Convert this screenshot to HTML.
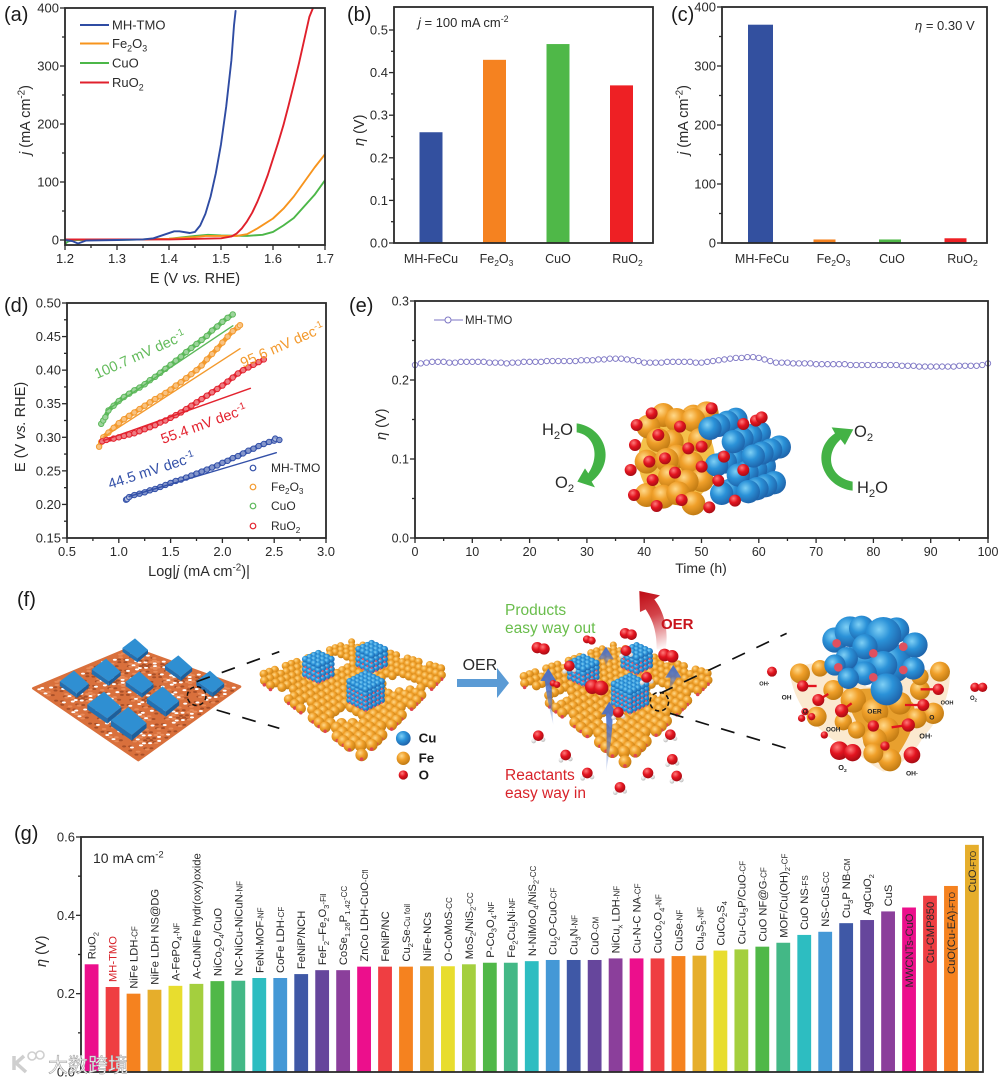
<!DOCTYPE html>
<html lang="en">
<head>
<meta charset="utf-8">
<title>OER electrocatalyst figure</title>
<style>
html,body{margin:0;padding:0;background:#fff;width:1000px;height:1083px;overflow:hidden}
svg{display:block;font-family:"Liberation Sans","Noto Sans CJK SC",sans-serif;filter:blur(.35px)}
text{white-space:pre}
</style>
</head>
<body>
<svg id="fig" width="1000" height="1083" viewBox="0 0 1000 1083" xmlns="http://www.w3.org/2000/svg">
<defs>
<radialGradient id="g-o" cx="38%" cy="32%" r="70%"><stop offset="0" stop-color="#ffd98a"/><stop offset=".45" stop-color="#f0a02a"/><stop offset="1" stop-color="#c07a12"/></radialGradient>
<radialGradient id="g-b" cx="38%" cy="35%" r="70%"><stop offset="0" stop-color="#7fd0f5"/><stop offset=".45" stop-color="#2b92d8"/><stop offset="1" stop-color="#1d5fa6"/></radialGradient>
<radialGradient id="g-r" cx="38%" cy="32%" r="70%"><stop offset="0" stop-color="#ff7b7b"/><stop offset=".5" stop-color="#e3141f"/><stop offset="1" stop-color="#a50c14"/></radialGradient>
<radialGradient id="g-w" cx="38%" cy="32%" r="70%"><stop offset="0" stop-color="#ffffff"/><stop offset="1" stop-color="#bcbcbc"/></radialGradient>
<linearGradient id="oer-arrow-fill" gradientUnits="userSpaceOnUse" x1="490" y1="178" x2="430" y2="10"><stop offset="0" stop-color="#c8141c" stop-opacity="0"/><stop offset=".6" stop-color="#c8141c" stop-opacity=".8"/><stop offset="1" stop-color="#c0111a"/></linearGradient>
<linearGradient id="up-arrow-fill" x1="0" y1="1" x2="0" y2="0"><stop offset="0" stop-color="#4a70c8" stop-opacity=".1"/><stop offset=".6" stop-color="#4a70c8" stop-opacity=".85"/><stop offset="1" stop-color="#4a70c8"/></linearGradient>
</defs>
<rect x="0" y="0" width="1000" height="1083" fill="#fff"/>
<g id="panel-a"></g>
<g id="panel-b"></g>
<g id="panel-c"></g>
<g id="panel-d"></g>
<g id="panel-e"></g>
<g id="panel-e-art"></g>
<g id="panel-f"></g>
<g id="panel-g"></g>
<g id="mark"></g>
</svg>
<script>
// ---------- Panel (a) data ----------
const eMhA=[1.2,1.215,1.225,1.24,1.3,1.35,1.37,1.39,1.41,1.42,1.44,1.45,1.46,1.47,1.48,1.49,1.5,1.51,1.52,1.525,1.528];
const jMhA=[0,-2,-6,-1,0,1,3,9,15,15,12,14,25,45,75,115,165,230,310,370,395];
const eRuA=[1.2,1.4,1.5,1.52,1.53,1.54,1.55,1.56,1.57,1.58,1.59,1.6,1.61,1.62,1.63,1.64,1.65,1.66,1.67,1.677];
const jRuA=[1,1,3,6,11,20,32,47,66,88,112,140,168,198,232,268,305,345,385,400];
const eFeA=[1.2,1.35,1.4,1.45,1.47,1.5,1.53,1.55,1.57,1.6,1.62,1.64,1.66,1.68,1.7];
const jFeA=[1,1,2,5,7,7,7,10,20,37,54,75,100,125,148];
const eCuA=[1.2,1.205,1.215,1.3,1.4,1.45,1.475,1.5,1.55,1.58,1.6,1.62,1.64,1.66,1.68,1.7];
const jCuA=[-7,-3,0,0,2,7,9,8,7,9,14,25,38,58,78,103];
const xTicksA=['1.2','1.3','1.4','1.5','1.6','1.7'];
const xMinorA=[1.25,1.35,1.45,1.55,1.65];
const yTicksA=['0','100','200','300','400'];
const yMinorA=[50,150,250,350];
// ---------- Panel (b) data ----------
const catsB=['MH-FeCu','Fe_{2}O_{3}','CuO','RuO_{2}'];
const etaB=[0.26,0.43,0.467,0.37];
const yTicksB=['0.0','0.1','0.2','0.3','0.4','0.5'];
const yMinorB=[0.05,0.15,0.25,0.35,0.45];
// ---------- Panel (c) data ----------
const catsC=['MH-FeCu','Fe_{2}O_{3}','CuO','RuO_{2}'];
const jC=[370,6,6,8];
const yTicksC=['0','100','200','300','400'];
const yMinorC=[50,150,250,350];
// ---------- Panel (d) data ----------
const logMhD=[1.07,1.08,1.1,1.15,1.2,1.25,1.3,1.35,1.4,1.45,1.5,1.55,1.6,1.65,1.7,1.75,1.8,1.85,1.9,1.95,2.0,2.05,2.1,2.15,2.2,2.25,2.3,2.35,2.4,2.45,2.5,2.51,2.55];
const eMhD=[.207,.208,.211,.214,.216,.218,.221,.223,.226,.229,.232,.235,.237,.24,.243,.246,.249,.252,.255,.258,.262,.265,.269,.272,.276,.28,.283,.287,.29,.293,.295,.298,.296];
const logFeD=[.81,.83,.85,.9,.95,1,1.05,1.1,1.15,1.2,1.25,1.3,1.35,1.4,1.45,1.5,1.55,1.6,1.65,1.7,1.75,1.8,1.85,1.9,1.95,2,2.05,2.1,2.15,2.17];
const eFeD=[.286,.293,.3,.307,.314,.321,.327,.332,.337,.342,.347,.352,.357,.361,.366,.371,.377,.382,.388,.394,.4,.407,.416,.424,.432,.441,.45,.458,.464,.467];
const logCuD=[.83,.85,.87,.9,.95,1,1.05,1.1,1.15,1.2,1.25,1.3,1.35,1.4,1.45,1.5,1.55,1.6,1.65,1.7,1.75,1.8,1.85,1.9,1.95,2,2.05,2.1];
const eCuD=[.32,.325,.33,.34,.347,.354,.36,.365,.37,.374,.379,.385,.39,.396,.402,.408,.414,.42,.427,.433,.439,.445,.451,.459,.465,.472,.478,.483];
const logRuD=[.84,.88,.95,1,1.05,1.1,1.15,1.2,1.25,1.3,1.35,1.4,1.45,1.5,1.55,1.6,1.65,1.7,1.75,1.8,1.85,1.9,1.95,2,2.05,2.1,2.15,2.2,2.25,2.3,2.35,2.4];
const eRuD=[.294,.296,.298,.3,.302,.304,.306,.309,.312,.315,.318,.322,.325,.329,.333,.337,.342,.347,.352,.357,.362,.367,.372,.377,.383,.389,.395,.4,.404,.408,.412,.416];
const fitMhX=[1.1,2.52], fitMhY=[.212,.277];
const fitFeX=[.85,2.17], fitFeY=[.3,.432];
const fitCuX=[.88,2.1], fitCuY=[.34,.466];
const fitRuX=[.85,2.27], fitRuY=[.295,.373];
const xTicksD=['0.5','1.0','1.5','2.0','2.5','3.0'];
const xMinorD=[.75,1.25,1.75,2.25,2.75];
const yTicksD=['0.15','0.20','0.25','0.30','0.35','0.40','0.45','0.50'];
const yMinorD=[.175,.225,.275,.325,.375,.425,.475];
// ---------- Panel (e) data ----------
const etaE=[.219,.221,.222,.223,.223,.223,.222,.222,.223,.223,.223,.223,.223,.222,.222,.222,.221,.222,.222,.223,.223,.223,.223,.224,.224,.224,.224,.224,.224,.225,.225,.225,.226,.226,.227,.227,.227,.226,.225,.224,.222,.222,.222,.222,.223,.223,.223,.223,.223,.222,.222,.223,.224,.225,.226,.227,.228,.228,.229,.229,.228,.226,.224,.222,.222,.222,.221,.221,.221,.221,.220,.220,.220,.220,.220,.220,.219,.219,.219,.219,.219,.219,.219,.219,.219,.218,.218,.218,.217,.217,.217,.217,.217,.217,.217,.218,.218,.218,.218,.219,.221];
const xTicksE=['0','10','20','30','40','50','60','70','80','90','100'];
const xMinorE=[5,15,25,35,45,55,65,75,85,95];
const yTicksE=['0.0','0.1','0.2','0.3'];
const yMinorE=[.05,.15,.25];
// ---------- Panel (g) data ----------
const catsG=['RuO_{2}','MH-TMO','NiFe LDH~{-CF}','NiFe LDH NS@DG','A-FePO_{4}~{-NF}','A-CuNiFe hydr(oxy)oxide','NiCo_{2}O_{4}/CuO','NC-NiCu-NiCuN~{-NF}','FeNi-MOF~{-NF}','CoFe LDH~{-CF}','FeNiP/NCH','FeF_{2}–Fe_{2}O_{3}~{-Fil}','CoSe_{1.26}P_{1.42}~{-CC}','ZnCo LDH-CuO~{-Cfl}','FeNiP/NC','Cu_{2}Se~{-Cu foil}','NiFe-NCs','O-CoMoS~{-CC}','MoS_{2}/NiS_{2}~{-CC}','P-Co_{3}O_{4}~{-NF}','Fe_{2}Cu_{5}Ni~{-NF}','N-NiMoO_{4}/NiS_{2}~{-CC}','Cu_{2}O-CuO~{-CF}','Cu_{3}N~{-NF}','CuO~{-CM}','NiCu_{x} LDH~{-NF}','Cu-N-C NA~{-CF}','CuCo_{2}O_{4}~{-NF}','CuSe~{-NF}','Cu_{9}S_{5}~{-NF}','CuCo_{2}S_{4}','Cu-Cu_{3}P/CuO~{-CF}','CuO NF@G~{-CF}','MOF/Cu(OH)_{2}~{-CF}','CuO NS~{-FS}','NS-CuS~{-CC}','Cu_{3}P NB~{-CM}','AgCuO_{2}','CuS','MWCNTs-CuO','Cu-CMP850','CuO(Cu-EA)~{-FTO}','CuO~{-FTO}'];
const etaG=[.275,.217,.2,.21,.22,.225,.232,.233,.24,.24,.25,.26,.26,.269,.269,.269,.27,.27,.275,.279,.279,.283,.286,.286,.286,.29,.29,.29,.296,.297,.31,.313,.32,.33,.35,.358,.38,.388,.41,.42,.45,.475,.58];
const yTicksG=['0.0','0.2','0.4','0.6'];
const yMinorG=[.1,.3,.5];

// ---------- helpers ----------
const NS='http://www.w3.org/2000/svg';
const INK='#2a2a2a';
const BLUE='#2f4ca3',ORANGE='#f7941d',GREEN='#4cb748',RED='#e0202c';
function mk(parent,tag,attrs){
  const e=document.createElementNS(NS,tag);
  for(const k in attrs)e.setAttribute(k,attrs[k]);
  parent.appendChild(e);
  return e;
}
function linear(d0,d1,r0,r1){return v=>r0+(v-d0)*(r1-r0)/(d1-d0);}
// rich text: _{sub} ^{sup} ~{small suffix} *{italic}
function rich(parent,str,x,y,size,fill,anchor,rot,weight){
  const attrs={x:x,y:y,'font-size':size,fill:fill||INK,'text-anchor':anchor||'start'};
  if(rot)attrs.transform='rotate('+rot+' '+x+' '+y+')';
  if(weight)attrs['font-weight']=weight;
  const t=mk(parent,'text',attrs);
  const re=/([_^~*])\{([^}]*)\}/g;
  let last=0,m,back=0;
  function add(txt,fs,dy,style){
    if(!txt)return;
    const a={};
    if(fs)a['font-size']=fs;
    const d=dy+back;
    if(d)a.dy=d;
    if(style)a['font-style']=style;
    const ts=mk(t,'tspan',a);
    ts.textContent=txt;
    back=-dy;
  }
  while((m=re.exec(str))){
    add(str.slice(last,m.index),null,0);
    if(m[1]==='_')add(m[2],size*.68,size*.25);
    else if(m[1]==='^')add(m[2],size*.68,-size*.38);
    else if(m[1]==='~')add(m[2],size*.72,0);
    else add(m[2],null,0,'italic');
    last=re.lastIndex;
  }
  add(str.slice(last),null,0);
  return t;
}
function axes(g,sx,sy,box,xT,xM,yT,yM,fs){
  const ticks=mk(g,'g',{stroke:INK,'stroke-width':1.3,fill:'none'});
  
  
  const labels=mk(g,'g',{});
  
  
  xT.forEach(s=>{const v=parseFloat(s),x=sx(v);
    mk(ticks,'line',{x1:x,x2:x,y1:box.b,y2:box.b+5});
    const t=rich(labels,s,x,box.b+18,fs,INK,'middle');
    
    
  });
  xM.forEach(v=>{const x=sx(v);mk(ticks,'line',{x1:x,x2:x,y1:box.b,y2:box.b+3});});
  yT.forEach(s=>{const v=parseFloat(s),y=sy(v);
    mk(ticks,'line',{x1:box.l-5,x2:box.l,y1:y,y2:y});
    const t=rich(labels,s,box.l-6,y+4.5,fs,INK,'end');
    
    
  });
  yM.forEach(v=>{const y=sy(v);mk(ticks,'line',{x1:box.l-3,x2:box.l,y1:y,y2:y});});
  const f=mk(g,'rect',{x:box.l,y:box.t,width:box.r-box.l,height:box.b-box.t,fill:'none',stroke:INK,'stroke-width':1.8});
  
  
}
function curve(g,xs,ys,sx,sy,color,width){
  const d=xs.map((v,i)=>(i?'L':'M')+sx(v).toFixed(1)+' '+sy(ys[i]).toFixed(1)).join('');
  return mk(g,'path',{d:d,fill:'none',stroke:color,'stroke-width':width,'stroke-linejoin':'round','stroke-linecap':'round'});
}
function panelTag(g,txt,x,y){
  const t=rich(g,txt,x,y,20,'#1a1a1a');
  
  
}
function atom(g,x,y,r,c){
  const a=mk(g,'circle',{cx:x,cy:y,r:r,fill:'url(#g-'+c+')'});
  
  
}

// ---------- Panel (a) ----------
(function(){
  const g=document.getElementById('panel-a');
  const box={l:65,r:325,t:8,b:245};
  const sx=linear(1.2,1.7,box.l,box.r), sy=linear(0,400,240,8);
  const clip=mk(g,'clipPath',{id:'clip-a'});
  mk(clip,'rect',{x:box.l,y:box.t,width:box.r-box.l,height:box.b-box.t});
  const lines=mk(g,'g',{'clip-path':'url(#clip-a)'});
  
  
  const c1=curve(lines,eCuA,jCuA,sx,sy,GREEN,1.9);
  
  
  const c2=curve(lines,eFeA,jFeA,sx,sy,ORANGE,1.9);
  
  
  const c3=curve(lines,eRuA,jRuA,sx,sy,RED,1.9);
  
  
  const c4=curve(lines,eMhA,jMhA,sx,sy,BLUE,1.9);
  
  
  axes(g,sx,sy,box,xTicksA,xMinorA,yTicksA,yMinorA,13);
  [['MH-TMO',BLUE,25],['Fe_{2}O_{3}',ORANGE,43.5],['CuO',GREEN,63],['RuO_{2}',RED,82.5]].forEach(r=>{
    const lg=mk(g,'g',{});
    
    
    mk(lg,'line',{x1:80,x2:109,y1:r[2],y2:r[2],stroke:r[1],'stroke-width':2});
    rich(lg,r[0],112,r[2]+4.5,13,INK);
  });
  const xt=rich(g,'E (V *{vs.} RHE)',195,283,14.5,INK,'middle');
  
  
  const yt=rich(g,'*{j} (mA cm^{-2})',30,155,14.5,INK,'start',-90);
  
  
  panelTag(g,'(a)',4,21);
})();

// ---------- Panel (b) ----------
(function(){
  const g=document.getElementById('panel-b');
  const box={l:394,r:653,t:7,b:243};
  const sy=linear(0,.5,243,30);
  const cx=i=>431+i*63.5;
  etaB.forEach((v,i)=>{
    const b=mk(g,'rect',{x:cx(i)-11.5,y:sy(v),width:23,height:243-sy(v),fill:['#33509f','#f58220','#4fb848','#ee2024'][i]});
    
    
    const t=rich(g,catsB[i],cx(i)+[0,2,0,6][i],263,12.5,INK,'middle');
    
    
  });
  axes(g,x=>x,sy,box,[],[],yTicksB,yMinorB,13);
  const n=rich(g,'*{j} = 100 mA cm^{-2}',418,27,13,INK);
  
  
  const yt=rich(g,'*{η} (V)',364,146,14.5,INK,'start',-90);
  
  
  panelTag(g,'(b)',347,21);
})();

// ---------- Panel (c) ----------
(function(){
  const g=document.getElementById('panel-c');
  const box={l:722,r:987,t:7,b:243};
  const sy=linear(0,400,243,7);
  const cx=i=>760+i*65.5;
  jC.forEach((v,i)=>{
    const b=mk(g,'rect',{x:cx(i)-12,y:sy(v),width:[25,22,22,22][i],height:243-sy(v),fill:['#33509f','#f58220','#4fb848','#ee2024'][i]});
    
    
    const t=rich(g,catsC[i],cx(i)+[2,8,1,6][i],263,12.5,INK,'middle');
    
    
  });
  axes(g,x=>x,sy,box,[],[],yTicksC,yMinorC,13);
  const n=rich(g,'*{η} = 0.30 V',915,30,13,INK);
  
  
  const yt=rich(g,'*{j} (mA cm^{-2})',688,155,14.5,INK,'start',-90);
  
  
  panelTag(g,'(c)',671,21);
})();

// ---------- Panel (d) ----------
(function(){
  const g=document.getElementById('panel-d');
  const box={l:67,r:326,t:303,b:538};
  const sx=linear(.5,3,box.l,box.r), sy=linear(.15,.5,538,303);
  function scatter(xs,ys,color,name){
    const s=mk(g,'g',{});
    
    
    curve(s,xs,ys,sx,sy,color,4.6);
    xs.forEach((v,i)=>{
      mk(s,'circle',{cx:sx(v),cy:sy(ys[i]),r:2.7,fill:'#fff','fill-opacity':.4,stroke:color,'stroke-width':1});
    });
  }
  scatter(logCuD,eCuD,'#5cb85a','series-cuo');
  scatter(logFeD,eFeD,'#f39a2e','series-fe2o3');
  scatter(logRuD,eRuD,'#e3232f','series-ruo2');
  scatter(logMhD,eMhD,'#3350a8','series-mh-tmo');
  [[fitCuX,fitCuY,'#5cb85a','fit-line-cuo'],[fitFeX,fitFeY,'#f39a2e','fit-line-fe2o3'],[fitRuX,fitRuY,'#e3232f','fit-line-ruo2'],[fitMhX,fitMhY,'#3350a8','fit-line-mh-tmo']].forEach(f=>{
    const l=curve(g,f[0],f[1],sx,sy,f[2],1.4);
    
    
  });
  axes(g,sx,sy,box,xTicksD,xMinorD,yTicksD,yMinorD,13);
  [['100.7 mV dec^{-1}','#63bb5b',97,379,-24],['95.6 mV dec^{-1}','#f39a2e',243,368,-24],['55.4 mV dec^{-1}','#e3232f',163,444,-20],['44.5 mV dec^{-1}','#3350a8',110,489,-18]].forEach(a=>{
    const t=rich(g,a[0],a[2],a[3],14.5,a[1],'start',a[4]);
    
    
  });
  [['MH-TMO','#3350a8',468],['Fe_{2}O_{3}','#f39a2e',487],['CuO','#5cb85a',506],['RuO_{2}','#e3232f',526]].forEach(r=>{
    const lg=mk(g,'g',{});
    
    
    mk(lg,'circle',{cx:253,cy:r[2],r:2.8,fill:'none',stroke:r[1],'stroke-width':1.2});
    rich(lg,r[0],271,r[2]+4,12,INK);
  });
  const xt=rich(g,'Log|*{j} (mA cm^{-2})|',199,576,14.5,INK,'middle');
  
  
  const yt=rich(g,'E (V *{vs.} RHE)',25,472,14.5,INK,'start',-90);
  
  
  panelTag(g,'(d)',4,312);
})();

// ---------- Panel (e) ----------
(function(){
  const g=document.getElementById('panel-e');
  const box={l:415,r:988,t:301,b:538};
  const sx=linear(0,100,box.l,box.r), sy=linear(0,.3,538,301);
  const col='#7d76c4';
  const s=mk(g,'g',{});
  
  
  etaE.forEach((v,i)=>{
    mk(s,'circle',{cx:sx(i*100/(etaE.length-1)),cy:sy(v),r:2.7,fill:'#fff',stroke:col,'stroke-width':.9});
  });
  axes(g,sx,sy,box,xTicksE,xMinorE,yTicksE,yMinorE,12.5);
  const lg=mk(g,'g',{});
  
  
  mk(lg,'line',{x1:434,x2:463,y1:320,y2:320,stroke:col,'stroke-width':1});
  mk(lg,'circle',{cx:448,cy:320,r:3,fill:'#fff',stroke:col,'stroke-width':1});
  rich(lg,'MH-TMO',465,324,11.5,INK);
  const xt=rich(g,'Time (h)',701,573,14,INK,'middle');
  
  
  const yt=rich(g,'*{η} (V)',386,440,14.5,INK,'start',-90);
  
  
  panelTag(g,'(e)',349,312);
})();

// ---------- Cube illustration inside (e) ----------
(function(){
  const root=document.getElementById('panel-e-art');
  const g=mk(root,'g',{transform:'translate(520 370) scale(.3333)'});
  
  
  const a1=mk(g,'path',{d:'M170,160 C250,170 295,270 215,335 L225,352 L172,335 L195,295 L205,310 C240,260 225,195 170,187 Z',fill:'#43b245'});
  
  
  const a2=mk(g,'path',{d:'M998,335 L998,362 C905,350 870,240 945,190 L935,172 L1000,178 L975,225 L962,208 C915,250 925,320 998,335 Z',fill:'#43b245'});
  
  
  const back=mk(g,'ellipse',{cx:470,cy:270,rx:115,ry:135,fill:'#f4c04a'});
  
  
  [[430,135],[520,140],[560,130],[470,150],[385,170],[520,150],[455,215],[415,210],[540,210],[380,275],[470,260],[515,280],[440,270],[450,320],[545,330],[500,335],[380,375],[430,380],[475,370],[520,400]].forEach(p=>atom(g,p[0],p[1],36,'o'));
  const front=[[570,175],[640,215],[700,258],[590,285],[655,315],[605,370],[685,365]];
  [3,2,1,0].forEach(k=>front.forEach(p=>atom(g,p[0]+k*26,p[1]-k*9,35,'b')));
  [[350,165],[345,225],[415,195],[480,170],[505,235],[545,230],[435,265],[388,275],[332,300],[465,308],[398,330],[342,375],[410,408],[485,390],[568,412],[645,392],[595,332],[545,290],[612,260],[670,300],[670,162],[708,152],[725,142],[575,115],[395,130]].forEach(p=>atom(g,p[0],p[1],18,'r'));
  [['H_{2}O',542,435],['O_{2}',555,488],['O_{2}',854,437],['H_{2}O',857,493]].forEach(r=>{
    const t=rich(root,r[0],r[1],r[2],16.5,INK);
    
    
  });
})();

// ---------- Panel (f) ----------
(function(){
  const root=document.getElementById('panel-f');
  panelTag(root,'(f)',17,606);
  const left=mk(root,'g',{transform:'translate(0 590) scale(.3333)'});
  
  
  const right=mk(root,'g',{transform:'translate(500 590) scale(.3333)'});
  
  

  function quad(Q,u,v){
    const w=[(1-u)*(1-v),u*(1-v),u*v,(1-u)*v];
    return [w[0]*Q[0][0]+w[1]*Q[1][0]+w[2]*Q[2][0]+w[3]*Q[3][0],w[0]*Q[0][1]+w[1]*Q[1][1]+w[2]*Q[2][1]+w[3]*Q[3][1]];
  }
  // film
  const Qf=[[100,295],[395,172],[720,290],[415,510]];
  const film=mk(left,'polygon',{points:Qf.map(p=>p.join(',')).join(' '),fill:'#d9703c',stroke:'#d9703c','stroke-width':8,'stroke-linejoin':'round'});
  
  
  const pores=mk(left,'g',{});
  
  
  for(let i=1;i<34;i++)for(let j=1;j<34;j++){
    const h=(i*7+j*13+i*j*3)%11, p=quad(Qf,i/34,j/34);
    if(h<2)mk(pores,'ellipse',{cx:p[0],cy:p[1],rx:6,ry:3,fill:'#fff'});
    else if(h<5)mk(pores,'ellipse',{cx:p[0]+4,cy:p[1]+3,rx:6,ry:3,fill:'#a84f28'});
    else if(h<7)mk(pores,'ellipse',{cx:p[0],cy:p[1],rx:7,ry:3,fill:'#e88a58'});
  }
  function tile(cx,cy,s){
    const t=mk(left,'g',{});
    
    
    mk(t,'polygon',{points:[[cx-50*s,cy-2*s],[cx+10*s,cy+40*s],[cx+10*s,cy+56*s],[cx-50*s,cy+14*s]].map(p=>p.join(',')).join(' '),fill:'#236fb0'});
    mk(t,'polygon',{points:[[cx+10*s,cy+40*s],[cx+52*s,cy+6*s],[cx+52*s,cy+20*s],[cx+10*s,cy+56*s]].map(p=>p.join(',')).join(' '),fill:'#1c5f9c'});
    mk(t,'polygon',{points:[[cx-50*s,cy-2*s],[cx,cy-40*s],[cx+52*s,cy+6*s],[cx+10*s,cy+40*s]].map(p=>p.join(',')).join(' '),fill:'#2f8fd2'});
  }
  [[405,175,.75],[318,240,.85],[222,276,.85],[535,228,.8],[418,277,.82],[630,275,.82],[488,327,.95],[312,345,1],[385,393,1.05]].forEach(p=>tile(p[0],p[1],p[2]));
  function dash(g,a,b){
    const l=mk(g,'line',{x1:a[0],y1:a[1],x2:b[0],y2:b[1],stroke:'#111','stroke-width':5,'stroke-dasharray':'42 38'});
    
    
  }
  dash(left,[590,275],[838,185]);
  dash(left,[650,360],[838,415]);
  const ring=mk(left,'circle',{cx:590,cy:318,r:28,fill:'none',stroke:'#111','stroke-width':4.5,'stroke-dasharray':'13 9'});
  
  

  function sheet(g,Q,n,r,holes,name){
    const s=mk(g,'g',{});
    
    
    const pts=[];
    for(let i=0;i<=n;i++)for(let j=0;j<=n;j++){
      const p=quad(Q,i/n,j/n);
      if(holes.some(h=>((p[0]-h[0])/h[2])**2+((p[1]-h[1])/h[3])**2<1))continue;
      const edge=i===0||j===0||i===n||j===n;
      if(edge&&(i*3+j*5)%4===0)continue;
      pts.push([p[0],p[1],edge]);
    }
    pts.sort((a,b)=>a[1]-b[1]);
    pts.forEach(p=>{
      atom(s,p[0],p[1],r*(.75+.6*(p[1]-160)/340),'o');
      if(p[2])mk(s,'circle',{cx:p[0],cy:p[1]+r*.9,r:r*.38,fill:'#e0464f'});
    });
  }
  function cube(g,cx,cy,n,dx,dy,dz,r){
    const c=mk(g,'g',{});
    
    
    for(let k=0;k<n;k++)for(let s=0;s<=2*(n-1);s++)for(let i=0;i<n;i++){
      const j=s-i; if(j<0||j>=n)continue;
      const x=cx+(i-j)*dx, y=cy+(s-(n-1))*dy+((n-1)/2-k)*dz;
      atom(c,x,y,r,'b');
      if(k<n-1&&(i===n-1||j===n-1))mk(c,'circle',{cx:x,cy:y+r*.9,r:r*.32,fill:'#e25a6a'});
    }
  }
  sheet(left,[[775,258],[1055,155],[1340,240],[1085,495]],17,14,[[1000,215,42,20],[1200,280,50,24],[1040,380,38,22],[825,308,52,16],[915,345,26,12]],'iron-oxide-lattice');
  cube(left,955,230,4,13,6,15,10);
  cube(left,1115,200,4,13,6,15,10);
  cube(left,1097,302,5,12,6,14,10);
  [[1210,445,22,'b','Cu',458],[1210,505,20,'o','Fe',518],[1210,555,14,'r','O',568]].forEach(r=>{
    const lg=mk(left,'g',{});
    
    
    atom(lg,r[0],r[1],r[2],r[3]);
    rich(lg,r[4],1256,r[5],40,'#1a1a1a','start',0,'bold');
  });
  const ot=rich(left,'OER',1388,240,48,INK);
  
  
  const arr=mk(root,'polygon',{points:'457,679 497,679 497,668 509,683 497,698 497,687 457,687',fill:'#5b9bd5'});
  
  

  // lattice with products & reactants
  sheet(right,[[55,265],[340,165],[640,255],[375,515]],17,14,[[110,302,46,14],[335,392,28,16],[480,300,26,14],[180,320,30,12]],'reacting-lattice');
  cube(right,250,240,4,13,6,14,10);
  cube(right,410,205,4,13,6,14,10);
  cube(right,390,310,5,12,6,14,10);
  [[145,235,160,405],[318,170,318,230],[520,225,505,305],[328,335,318,545]].forEach(a=>{
    const u=mk(right,'path',{d:'M'+a[2]+','+a[3]+' Q'+(a[0]-6)+','+((a[1]+a[3])/2)+' '+(a[0]-10)+','+(a[1]+38)+' L'+(a[0]-24)+','+(a[1]+38)+' L'+a[0]+','+a[1]+' L'+(a[0]+24)+','+(a[1]+38)+' L'+(a[0]+10)+','+(a[1]+38)+' Q'+(a[0]+10)+','+((a[1]+a[3])/2)+' '+a[2]+','+a[3]+' Z',fill:'url(#up-arrow-fill)'});
    
    
  });
  const molecules=mk(right,'g',{});
  
  
  [[115,437],[197,495],[262,549],[360,592],[444,549],[530,558],[517,508],[511,434],[355,367],[440,262],[208,228],[378,182]].forEach(p=>{
    atom(molecules,p[0]-14,p[1]+16,7,'w');
    atom(molecules,p[0]+14,p[1]+12,7,'w');
    atom(molecules,p[0],p[1],16,'r');
  });
  [[122,175,17],[385,132,16],[268,150,12],[290,292,22],[505,197,19],[165,282,10]].forEach(p=>{
    atom(molecules,p[0]-p[2]*.6,p[1]-2,p[2],'r');
    atom(molecules,p[0]+p[2]*.6,p[1]+2,p[2],'r');
  });
  const ring2=mk(right,'circle',{cx:478,cy:335,r:28,fill:'none',stroke:'#111','stroke-width':4.5,'stroke-dasharray':'13 9'});
  
  
  dash(right,[480,310],[860,130]);
  dash(right,[510,370],[860,475]);
  const oa=mk(right,'path',{d:'M470,178 C470,125 460,92 437,58 L420,66 L418,3 L480,16 L463,28 C490,62 507,115 497,178 Z',fill:'url(#oer-arrow-fill)'});
  
  
  [['Products',505,615,'#69bd4b','products-label'],['easy way out',505,633,'#69bd4b','products-label'],['Reactants',505,780,'#d8232a','reactants-label'],['easy way in',505,798,'#d8232a','reactants-label']].forEach(r=>{
    const t=rich(root,r[0],r[1],r[2],15.5,r[3]);
    
    
  });
  const oer=rich(root,'OER',661,629,15,'#c8141c','start',0,'bold');
  
  

  // close-up cluster
  const cl=mk(right,'g',{});
  
  
  mk(cl,'path',{d:'M870,250 C930,200 1010,210 1100,290 C1200,300 1290,200 1350,250 C1350,330 1310,400 1270,440 C1240,500 1180,540 1150,545 C1100,520 1060,470 1000,450 C930,400 880,330 870,250 Z',fill:'#fbe9cf'});
  mk(cl,'path',{d:'M1040,310 C1100,280 1200,300 1240,340 C1260,400 1210,470 1170,530 C1130,530 1090,480 1085,430 C1070,390 1040,350 1040,310 Z',fill:'#e8a02e'});
  [[900,250,30],[960,235,25],[1320,245,30],[1000,300,30],[1060,330,38],[1125,365,40],[1200,340,34],[1260,300,30],[1300,370,32],[950,380,30],[1030,395,26],[1250,385,30],[1070,420,26],[1160,420,38],[1125,450,36],[1170,510,34],[1120,490,30],[1260,260,26]].forEach(p=>atom(cl,p[0],p[1],p[2],'o'));
  [[1100,200,60],[1175,220,60],[1005,150,38],[1050,125,46],[1085,115,38],[1190,120,38],[1150,135,54],[1245,165,38],[1095,170,38],[1040,205,34],[1005,225,32],[1240,235,34],[1150,225,42],[1095,250,36],[1045,265,32],[1160,298,48]].forEach(p=>atom(cl,p[0],p[1],p[2],'b'));
  [[1010,160,13],[1120,190,13],[1210,170,13],[1015,232,13],[1120,262,13],[1210,240,13]].forEach(p=>mk(cl,'circle',{cx:p[0],cy:p[1],r:p[2],fill:'#e0505f'}));
  [[908,288,950,288],[955,330,985,312],[1025,362,1055,340],[1270,345,1215,345],[1225,405,1175,412],[1315,298,1262,298]].forEach(l=>mk(cl,'line',{x1:l[0],y1:l[1],x2:l[2],y2:l[3],stroke:'#e3141f','stroke-width':7}));
  [[816,245,15],[908,288,17],[955,330,18],[1025,362,20],[1270,345,18],[1225,405,20],[1315,298,17],[1120,408,17],[1155,468,14],[915,365,11],[905,385,11],[935,380,11],[973,435,11],[1236,495,25],[1018,482,28],[1058,488,26],[1425,292,14],[1448,292,14]].forEach(p=>atom(cl,p[0],p[1],p[2],'r'));
  [['OH·',778,286,17,'bold'],['OH',845,328,20,'bold'],['O',908,370,20,'bold'],['OOH',978,425,19,'bold'],['OER',1102,370,20,'bold'],['O',1288,388,20,'bold'],['OOH',1322,344,17,'bold'],['OH·',1258,445,22,'bold'],['OH·',1218,556,20,'bold'],['O_{2}',1015,540,22,'bold'],['O_{2}',1410,330,18,'bold']].forEach(r=>{
    const t=rich(cl,r[0],r[1],r[2],r[3],'#222','start',0,r[4]);
    
    
  });
})();

// ---------- Panel (g) ----------
(function(){
  const g=document.getElementById('panel-g');
  const box={l:81,r:983,t:837,b:1072};
  const sy=linear(0,.6,1072,837);
  const pitch=20.96, first=91.6;
  const palette=['#ec0f8c','#ef3e42','#f5821f','#e6ae2b','#e8dd2e','#a4cf3e','#50b848','#43b886','#2dbdc1','#4498d6','#3f58a6','#66469c','#8b3f9b'];
  etaG.forEach((v,i)=>{
    const cx=first+i*pitch, top=sy(v);
    const b=mk(g,'rect',{x:cx-6.9,y:top,width:13.8,height:1072-top,fill:palette[i%palette.length]});
    
    
  });
  etaG.forEach((v,i)=>{
    const cx=first+i*pitch, top=sy(v), inside=i>=39;
    const fill=catsG[i]==='MH-TMO'?'#d8232a':'#2a2a2a';
    const t=inside?rich(g,catsG[i],cx+4,top+6,11.2,fill,'end',-90):rich(g,catsG[i],cx+4,top-5,11.2,fill,'start',-90);
    
    
  });
  axes(g,x=>x,sy,box,[],[],yTicksG,yMinorG,13);
  const n=rich(g,'10 mA cm^{-2}',93,863,14,INK);
  
  
  const yt=rich(g,'*{η} (V)',46,967,14.5,INK,'start',-90);
  
  
  panelTag(g,'(g)',14,840);
})();

// ---------- Watermark ----------
(function(){
  const g=document.getElementById('mark');
  const l=mk(g,'path',{d:'M14,1056 L14,1070 M24,1056 L16,1063 L26,1072',fill:'none',stroke:'#cfcfcf','stroke-width':3.5});
  
  
  const c=mk(g,'path',{d:'M28,1056 a4,4 0 1 1 8,0 a4,4 0 1 1 -8,0 M36,1055 a4,4 0 1 1 8,0 a4,4 0 1 1 -8,0',fill:'none',stroke:'#cfcfcf','stroke-width':1.6});
  
  
  const t=mk(g,'text',{x:48,y:1072,'font-size':20,fill:'#f4f4f4',stroke:'#9a9a9a','stroke-width':.5,'font-family':'"Liberation Sans","Noto Sans CJK SC",sans-serif'});
  t.textContent='大数跨境';
  
  
})();
</script>
</body>
</html>
